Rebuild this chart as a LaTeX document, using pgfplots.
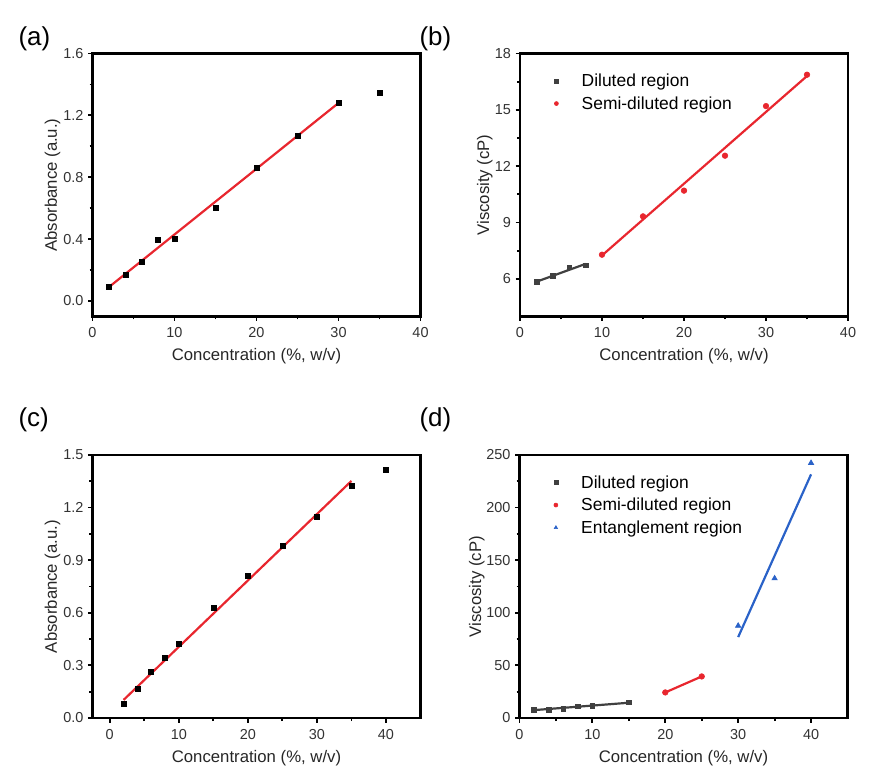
\documentclass[border=0pt]{standalone}
\usepackage{fontspec}
\setmainfont{Liberation Sans}
\usepackage{pgfplots}
\pgfplotsset{compat=1.18}
\definecolor{dgray}{HTML}{404040}
\definecolor{fred}{HTML}{E8262E}
\definecolor{fblue}{HTML}{2A62C8}
\pgfplotsset{
  panel/.style={
    scale only axis, width=328bp, height=263bp,
    line width=2.6bp,
    axis line style={line width=2.6bp},
    tick align=outside, tick pos=left,
    major tick length=4.5bp, minor tick length=3bp,
    tick style={line width=1.8bp, black},
    minor x tick num=1, minor y tick num=1,
    ticklabel style={font=\fontsize{14.5}{17}\selectfont, text=black!80},
    xticklabel style={yshift=-2bp},
    /pgf/number format/assume math mode=true,
    label style={font=\fontsize{16.8}{20}\selectfont, text=black!85},
    xlabel={Concentration (\%, w/v)},
    xlabel style={at={(axis description cs:0.5,-0.152)}, anchor=center},
    legend style={draw=none, fill=none, at={(axis description cs:0.1,0.935)}, anchor=north west,
      font=\fontsize{17.5}{21}\selectfont, row sep=4.5bp, inner sep=0pt},
    legend cell align=left,
    clip=false,
  },
  pt/.style={only marks, mark size=2.5bp, line width=0.6bp,
    legend image code/.code={\path (-2bp,0bp) (23bp,0bp); \draw[##1, mark size=2bp] plot coordinates {(0bp,0bp)};}},
  fit/.style={line width=2.2bp, forget plot},
}
\begin{document}
\begin{tikzpicture}
\useasboundingbox (0,0) rectangle (892bp,780bp);
\node[anchor=west, font=\fontsize{26}{30}\selectfont] at (15bp,741bp) {(a)};
\node[anchor=west, font=\fontsize{26}{30}\selectfont] at (416bp,741bp) {(b)};
\node[anchor=west, font=\fontsize{26}{30}\selectfont] at (15bp,360bp) {(c)};
\node[anchor=west, font=\fontsize{26}{30}\selectfont] at (416bp,360bp) {(d)};

% (a)
\begin{axis}[panel, at={(92.5bp,463.5bp)}, anchor=south west,
  xmin=0, xmax=40, ymin=-0.1, ymax=1.6,
  xtick={0,10,20,30,40}, ytick={0,0.4,0.8,1.2,1.6},
  yticklabel style={/pgf/number format/.cd, fixed, fixed zerofill, precision=1},
  ylabel={Absorbance (a.u.)},
  ylabel style={at={(axis description cs:-0.122,0.5)}, anchor=center}]
\addplot[fred, fit] coordinates {(2,0.09) (30,1.28)};
\addplot[pt, mark=square*, black] coordinates {
 (2,0.095) (4,0.172) (6,0.254) (8,0.395) (10,0.404) (15,0.602)
 (20,0.862) (25,1.067) (30,1.282) (35,1.346)};
\end{axis}

% (b)
\begin{axis}[panel, at={(520bp,463.5bp)}, anchor=south west,
  xmin=0, xmax=40, ymin=4, ymax=18,
  xtick={0,10,20,30,40}, ytick={6,9,12,15,18},
  ylabel={Viscosity (cP)},
  ylabel style={at={(axis description cs:-0.107,0.5)}, anchor=center}]
\addplot[pt, mark=square*, dgray, mark size=2.4bp] coordinates {
 (2,5.86) (4,6.18) (6,6.62) (8,6.72)};
\addlegendentry{Diluted region}
\addplot[pt, mark=*, fred, mark size=2.8bp] coordinates {
 (10,7.29) (15,9.33) (20,10.70) (25,12.56) (30,15.2) (35,16.87)};
\addlegendentry{Semi-diluted region}
\addplot[dgray, fit] coordinates {(2,5.85) (8,6.8)};
\addplot[fred, fit] coordinates {(10,7.25) (35,16.8)};
\end{axis}

% (c)
\begin{axis}[panel, at={(92.5bp,62bp)}, anchor=south west,
  xmin=-2.5, xmax=45, ymin=0, ymax=1.5,
  xtick={0,10,20,30,40}, ytick={0,0.3,0.6,0.9,1.2,1.5},
  yticklabel style={/pgf/number format/.cd, fixed, fixed zerofill, precision=1},
  ylabel={Absorbance (a.u.)},
  ylabel style={at={(axis description cs:-0.122,0.5)}, anchor=center}]
\addplot[fred, fit] coordinates {(2,0.103) (35,1.352)};
\addplot[pt, mark=square*, black] coordinates {
 (2,0.083) (4,0.169) (6,0.265) (8,0.343) (10,0.426) (15,0.629)
 (20,0.811) (25,0.983) (30,1.146) (35,1.327) (40,1.415)};
\end{axis}

% (d)
\begin{axis}[panel, at={(519.5bp,62bp)}, anchor=south west,
  xmin=0, xmax=45, ymin=0, ymax=250,
  xtick={0,10,20,30,40}, ytick={0,50,100,150,200,250},
  ylabel={Viscosity (cP)},
  ylabel style={at={(axis description cs:-0.13,0.5)}, anchor=center}]
\addplot[pt, mark=square*, dgray, mark size=2.4bp] coordinates {
 (2,7.9) (4,7.9) (6,8.6) (8,11.1) (10,11.7) (15,14.9)};
\addlegendentry{Diluted region}
\addplot[pt, mark=*, fred, mark size=2.8bp] coordinates {(20,24.3) (25,39.5)};
\addlegendentry{Semi-diluted region}
\addplot[pt, mark=triangle*, fblue, mark size=3.1bp] coordinates {(30,87.7) (35,132.7) (40,242.4)};
\addlegendentry{Entanglement region}
\addplot[dgray, fit] coordinates {(2,7.5) (15,14.5)};
\addplot[fred, fit] coordinates {(20,24.3) (25,39.5)};
\addplot[fblue, fit] coordinates {(30,76.9) (40,231.6)};
\end{axis}
\end{tikzpicture}
\end{document}
